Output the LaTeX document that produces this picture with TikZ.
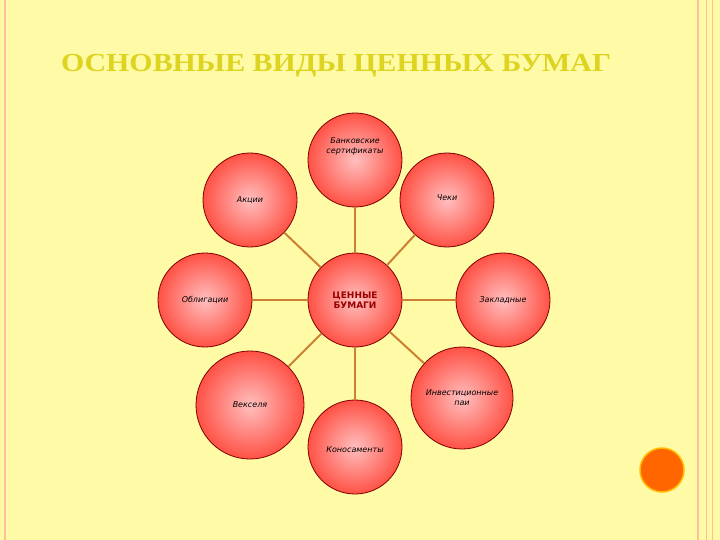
\documentclass[tikz,border=0pt]{standalone}
\usepackage{fontspec}
\setmainfont{Liberation Serif}
\newfontfamily\sansf{DejaVu Sans}
\begin{document}
\begin{tikzpicture}[x=1pt,y=-1pt,
  bub/.style={circle,draw=red!50!black,line width=0.8pt,inner color=red!25!white,outer color=red!70!white!90!orange,minimum size=#1,inner sep=1pt,align=center,font=\sansf\fontsize{8}{10}\selectfont\itshape},
  txt/.style={align=center,font=\sansf\fontsize{8}{10}\selectfont\itshape},
  conn/.style={draw=brown!80!orange,line width=2pt}]
\useasboundingbox (0,0) rectangle (720,540);
\fill[yellow!35!white] (0,0) rectangle (720,540);
\draw[red!25!orange!40,line width=2pt] (5,-2) -- (5,542);
\draw[red!25!orange!40,line width=2pt] (698,-2) -- (698,542);
\draw[red!25!orange!40,line width=1pt] (706,-2) -- (706,542);
\draw[red!25!orange!40,line width=1pt] (712,-2) -- (712,542);
\node[circle,fill=orange!80!red,draw=orange!50!yellow,line width=1.5pt,minimum size=44pt] (dot) at (662,470) {};
\node[font=\bfseries\fontsize{26}{30}\selectfont,text=yellow!85!black,draw=none,xscale=1.15] (title) at (336,66) {ОСНОВНЫЕ ВИДЫ ЦЕННЫХ БУМАГ};
\node[bub=94pt,font=\sansf\bfseries\fontsize{9}{10}\selectfont,text=red!60!black] (c) at (355,300) {ЦЕННЫЕ\\БУМАГИ};
\node[bub=94pt,label={[txt,yshift=14pt]center:Банковские\\сертификаты}] (n1) at (355,160) {};
\node[bub=94pt,label={[txt,yshift=0pt]center:Акции}] (n2) at (250,200) {};
\node[bub=94pt,label={[txt,yshift=2pt]center:Чеки}] (n3) at (447,200) {};
\node[bub=94pt] (n4) at (205,300) {Облигации};
\node[bub=94pt] (n5) at (503,300) {Закладные};
\node[bub=108pt] (n6) at (250,405) {Векселя};
\node[bub=102pt] (n7) at (462,398) {Инвестиционные\\паи};
\node[bub=94pt,label={[txt,yshift=-3pt]center:Коносаменты}] (n8) at (355,447) {};
\foreach \n in {n1,n2,n3,n4,n5,n6,n7,n8} \path[conn] (c) -- (\n);
\end{tikzpicture}
\end{document}
